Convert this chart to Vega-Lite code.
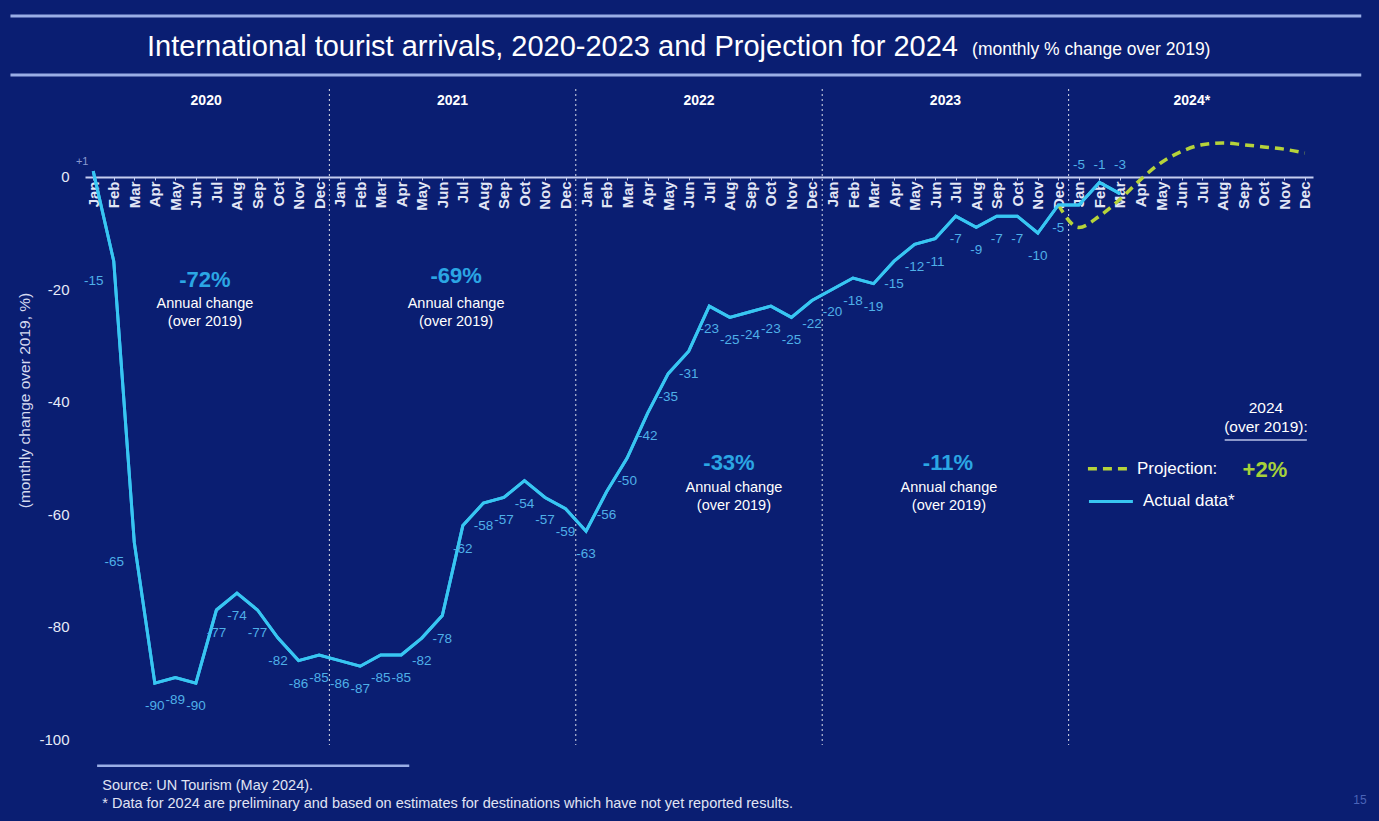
{
  "$schema": "https://vega.github.io/schema/vega-lite/v6.json",
  "description": "International tourist arrivals 2020-2023 and projection for 2024, monthly % change over 2019.",
  "width": 1228,
  "height": 656,
  "autosize": {"type": "none"},
  "padding": {"left": 85, "top": 89, "right": 66, "bottom": 76},
  "background": "#0a1e72",
  "config": {
    "font": "Liberation Sans",
    "view": {"stroke": null},
    "axisX": {"labelOverlap": false, "labelFlush": false, "labelBound": false, "tickCount": 60}
  },
  "datasets": {
    "months": [
      {"i": 0, "period": "2020-01", "actual": 1},
      {"i": 1, "period": "2020-02", "actual": -15},
      {"i": 2, "period": "2020-03", "actual": -65},
      {"i": 3, "period": "2020-04", "actual": -90},
      {"i": 4, "period": "2020-05", "actual": -89},
      {"i": 5, "period": "2020-06", "actual": -90},
      {"i": 6, "period": "2020-07", "actual": -77},
      {"i": 7, "period": "2020-08", "actual": -74},
      {"i": 8, "period": "2020-09", "actual": -77},
      {"i": 9, "period": "2020-10", "actual": -82},
      {"i": 10, "period": "2020-11", "actual": -86},
      {"i": 11, "period": "2020-12", "actual": -85},
      {"i": 12, "period": "2021-01", "actual": -86},
      {"i": 13, "period": "2021-02", "actual": -87},
      {"i": 14, "period": "2021-03", "actual": -85},
      {"i": 15, "period": "2021-04", "actual": -85},
      {"i": 16, "period": "2021-05", "actual": -82},
      {"i": 17, "period": "2021-06", "actual": -78},
      {"i": 18, "period": "2021-07", "actual": -62},
      {"i": 19, "period": "2021-08", "actual": -58},
      {"i": 20, "period": "2021-09", "actual": -57},
      {"i": 21, "period": "2021-10", "actual": -54},
      {"i": 22, "period": "2021-11", "actual": -57},
      {"i": 23, "period": "2021-12", "actual": -59},
      {"i": 24, "period": "2022-01", "actual": -63},
      {"i": 25, "period": "2022-02", "actual": -56},
      {"i": 26, "period": "2022-03", "actual": -50},
      {"i": 27, "period": "2022-04", "actual": -42},
      {"i": 28, "period": "2022-05", "actual": -35},
      {"i": 29, "period": "2022-06", "actual": -31},
      {"i": 30, "period": "2022-07", "actual": -23},
      {"i": 31, "period": "2022-08", "actual": -25},
      {"i": 32, "period": "2022-09", "actual": -24},
      {"i": 33, "period": "2022-10", "actual": -23},
      {"i": 34, "period": "2022-11", "actual": -25},
      {"i": 35, "period": "2022-12", "actual": -22},
      {"i": 36, "period": "2023-01", "actual": -20},
      {"i": 37, "period": "2023-02", "actual": -18},
      {"i": 38, "period": "2023-03", "actual": -19},
      {"i": 39, "period": "2023-04", "actual": -15},
      {"i": 40, "period": "2023-05", "actual": -12},
      {"i": 41, "period": "2023-06", "actual": -11},
      {"i": 42, "period": "2023-07", "actual": -7},
      {"i": 43, "period": "2023-08", "actual": -9},
      {"i": 44, "period": "2023-09", "actual": -7},
      {"i": 45, "period": "2023-10", "actual": -7},
      {"i": 46, "period": "2023-11", "actual": -10},
      {"i": 47, "period": "2023-12", "actual": -5, "projection": -5},
      {"i": 48, "period": "2024-01", "actual": -5, "projection": -9},
      {"i": 49, "period": "2024-02", "actual": -1, "projection": -7},
      {"i": 50, "period": "2024-03", "actual": -3, "projection": -4},
      {"i": 51, "period": "2024-04", "projection": -0.5},
      {"i": 52, "period": "2024-05", "projection": 2.5},
      {"i": 53, "period": "2024-06", "projection": 4.5},
      {"i": 54, "period": "2024-07", "projection": 5.7},
      {"i": 55, "period": "2024-08", "projection": 6},
      {"i": 56, "period": "2024-09", "projection": 5.7},
      {"i": 57, "period": "2024-10", "projection": 5.3},
      {"i": 58, "period": "2024-11", "projection": 4.9},
      {"i": 59, "period": "2024-12", "projection": 4.2}
    ],
    "years": [
      {"year": "2020", "center": 5.5, "end": 11.5},
      {"year": "2021", "center": 17.5, "end": 23.5},
      {"year": "2022", "center": 29.5, "end": 35.5},
      {"year": "2023", "center": 41.5, "end": 47.5},
      {"year": "2024*", "center": 53.5}
    ]
  },
  "data": {"name": "months"},
  "layer": [
    {
      "mark": {"type": "line", "color": "#38c6f2", "strokeWidth": 3},
      "encoding": {
        "x": {
          "field": "i",
          "type": "quantitative",
          "scale": {"domain": [-0.4, 59.4], "nice": false, "zero": false},
          "axis": {
            "orient": "bottom",
            "offset": -568,
            "values": [0, 1, 2, 3, 4, 5, 6, 7, 8, 9, 10, 11, 12, 13, 14, 15, 16, 17, 18, 19, 20, 21, 22, 23, 24, 25, 26, 27, 28, 29, 30, 31, 32, 33, 34, 35, 36, 37, 38, 39, 40, 41, 42, 43, 44, 45, 46, 47, 48, 49, 50, 51, 52, 53, 54, 55, 56, 57, 58, 59],
            "tickCount": 60,
            "labelExpr": "['Jan','Feb','Mar','Apr','May','Jun','Jul','Aug','Sep','Oct','Nov','Dec'][datum.value % 12]",
            "labelAngle": -90,
            "labelFontSize": 15,
            "labelFontWeight": "bold",
            "labelColor": "#e2e6f6",
            "labelPadding": 1,
            "labelOverlap": false,
            "labelBound": false,
            "labelFlush": false,
            "tickSize": 3,
            "tickColor": "#c5cdf0",
            "domainColor": "#c5cdf0",
            "domainWidth": 2,
            "grid": false,
            "title": null
          }
        },
        "y": {
          "field": "actual",
          "type": "quantitative",
          "scale": {"domain": [-101, 15.6], "nice": false, "zero": false},
          "axis": {
            "values": [0, -20, -40, -60, -80, -100],
            "labelExpr": "'' + datum.value",
            "labelFontSize": 15,
            "labelColor": "#e6eaf8",
            "labelPadding": 16,
            "ticks": false,
            "domain": false,
            "grid": false,
            "title": "(monthly change over 2019, %)",
            "titleFontSize": 15.5,
            "titleFontWeight": "normal",
            "titleColor": "#d5daf0",
            "titlePadding": 6,
            "titleY": 311
          }
        }
      }
    },
    {
      "data": {"name": "years"},
      "transform": [{"filter": "isValid(datum.end)"}],
      "mark": {"type": "rule", "color": "#ffffff", "strokeWidth": 1, "strokeDash": [2, 3], "opacity": 0.85},
      "encoding": {
        "x": {"field": "end", "type": "quantitative"}
      }
    },
    {
      "data": {"name": "years"},
      "mark": {"type": "text", "color": "#ffffff", "fontSize": 14, "fontWeight": "bold", "baseline": "middle"},
      "encoding": {
        "x": {"field": "center", "type": "quantitative"},
        "y": {"datum": 13.47},
        "text": {"field": "year"}
      }
    },
    {
      "data": {"values": [{"line": 28.58}, {"line": 18.09}]},
      "mark": {"type": "rule", "color": "#9aaee6", "strokeWidth": 3},
      "encoding": {
        "x": {"datum": -4.03},
        "x2": {"datum": 61.75},
        "y": {"field": "line", "type": "quantitative"}
      }
    },
    {
      "data": {"values": [{}]},
      "mark": {"type": "text", "align": "left", "baseline": "middle", "fontSize": 29, "color": "#ffffff"},
      "encoding": {
        "x": {"datum": 2.62},
        "y": {"datum": 23.0},
        "text": {"value": "International tourist arrivals, 2020-2023 and Projection for 2024"}
      }
    },
    {
      "data": {"values": [{}]},
      "mark": {"type": "text", "align": "left", "baseline": "middle", "fontSize": 17.5, "color": "#ffffff"},
      "encoding": {
        "x": {"datum": 42.8},
        "y": {"datum": 22.5},
        "text": {"value": "(monthly % change over 2019)"}
      }
    },
    {
      "mark": {"type": "line", "color": "#b6d33a", "strokeWidth": 3.5, "strokeDash": [9, 6], "interpolate": "monotone"},
      "encoding": {
        "x": {"field": "i", "type": "quantitative"},
        "y": {"field": "projection", "type": "quantitative"}
      }
    },
    {
      "mark": {"type": "line", "color": "#38c6f2", "strokeWidth": 3},
      "encoding": {
        "x": {"field": "i", "type": "quantitative"},
        "y": {"field": "actual", "type": "quantitative"}
      }
    },
    {
      "transform": [{"filter": "datum.i >= 3 && datum.i <= 47"}],
      "mark": {"type": "text", "color": "#4fb0e8", "fontSize": 13.5, "baseline": "middle", "dy": 23},
      "encoding": {
        "x": {"field": "i", "type": "quantitative"},
        "y": {"field": "actual", "type": "quantitative"},
        "text": {"field": "actual", "type": "nominal"}
      }
    },
    {
      "transform": [{"filter": "datum.i == 1 || datum.i == 2"}],
      "mark": {"type": "text", "color": "#4fb0e8", "fontSize": 13.5, "baseline": "middle", "dx": -20, "dy": 20},
      "encoding": {
        "x": {"field": "i", "type": "quantitative"},
        "y": {"field": "actual", "type": "quantitative"},
        "text": {"field": "actual", "type": "nominal"}
      }
    },
    {
      "transform": [{"filter": "datum.i == 0"}, {"calculate": "'+' + datum.actual", "as": "signed"}],
      "mark": {"type": "text", "color": "#8a9ad0", "fontSize": 11, "baseline": "middle", "dx": -11, "dy": -9},
      "encoding": {
        "x": {"field": "i", "type": "quantitative"},
        "y": {"field": "actual", "type": "quantitative"},
        "text": {"field": "signed", "type": "nominal"}
      }
    },
    {
      "transform": [{"filter": "datum.i >= 48 && isValid(datum.actual)"}],
      "mark": {"type": "text", "color": "#4fb0e8", "fontSize": 13.5, "baseline": "middle"},
      "encoding": {
        "x": {"field": "i", "type": "quantitative"},
        "y": {"datum": 2.1},
        "text": {"field": "actual", "type": "nominal"}
      }
    },
    {
      "data": {"values": [{}]},
      "mark": {"type": "text", "color": "#2ba6e4", "fontSize": 22, "fontWeight": "bold", "baseline": "middle"},
      "encoding": {"x": {"datum": 5.44}, "y": {"datum": -18.3}, "text": {"value": "-72%"}}
    },
    {
      "data": {"values": [{}]},
      "mark": {"type": "text", "color": "#ffffff", "fontSize": 14.5, "baseline": "top", "lineHeight": 18},
      "encoding": {"x": {"datum": 5.44}, "y": {"datum": -21.4}, "text": {"value": ["Annual change", "(over 2019)"]}}
    },
    {
      "data": {"values": [{}]},
      "mark": {"type": "text", "color": "#2ba6e4", "fontSize": 22, "fontWeight": "bold", "baseline": "middle"},
      "encoding": {"x": {"datum": 17.67}, "y": {"datum": -17.6}, "text": {"value": "-69%"}}
    },
    {
      "data": {"values": [{}]},
      "mark": {"type": "text", "color": "#ffffff", "fontSize": 14.5, "baseline": "top", "lineHeight": 18},
      "encoding": {"x": {"datum": 17.67}, "y": {"datum": -21.3}, "text": {"value": ["Annual change", "(over 2019)"]}}
    },
    {
      "data": {"values": [{}]},
      "mark": {"type": "text", "color": "#2ba6e4", "fontSize": 22, "fontWeight": "bold", "baseline": "middle"},
      "encoding": {"x": {"datum": 30.96}, "y": {"datum": -50.9}, "text": {"value": "-33%"}}
    },
    {
      "data": {"values": [{}]},
      "mark": {"type": "text", "color": "#ffffff", "fontSize": 14.5, "baseline": "top", "lineHeight": 18},
      "encoding": {"x": {"datum": 31.2}, "y": {"datum": -54.0}, "text": {"value": ["Annual change", "(over 2019)"]}}
    },
    {
      "data": {"values": [{}]},
      "mark": {"type": "text", "color": "#2ba6e4", "fontSize": 22, "fontWeight": "bold", "baseline": "middle"},
      "encoding": {"x": {"datum": 41.62}, "y": {"datum": -50.9}, "text": {"value": "-11%"}}
    },
    {
      "data": {"values": [{}]},
      "mark": {"type": "text", "color": "#ffffff", "fontSize": 14.5, "baseline": "top", "lineHeight": 18},
      "encoding": {"x": {"datum": 41.67}, "y": {"datum": -54.0}, "text": {"value": ["Annual change", "(over 2019)"]}}
    },
    {
      "data": {"values": [{}]},
      "mark": {"type": "text", "color": "#ffffff", "fontSize": 15.5, "baseline": "middle", "lineHeight": 19},
      "encoding": {"x": {"datum": 57.11}, "y": {"datum": -41.1}, "text": {"value": ["2024", "(over 2019):"]}}
    },
    {
      "data": {"values": [{}]},
      "mark": {"type": "rule", "color": "#b8c2e8", "strokeWidth": 1.5},
      "encoding": {"x": {"datum": 55.1}, "x2": {"datum": 59.1}, "y": {"datum": -46.8}}
    },
    {
      "data": {"values": [{}]},
      "mark": {"type": "rule", "color": "#b6d33a", "strokeWidth": 3.5, "strokeDash": [9, 6]},
      "encoding": {"x": {"datum": 48.44}, "x2": {"datum": 50.58}, "y": {"datum": -51.9}}
    },
    {
      "data": {"values": [{}]},
      "mark": {"type": "rule", "color": "#38c6f2", "strokeWidth": 3},
      "encoding": {"x": {"datum": 48.49}, "x2": {"datum": 50.63}, "y": {"datum": -57.7}}
    },
    {
      "data": {"values": [{}]},
      "mark": {"type": "text", "color": "#ffffff", "fontSize": 17, "align": "left", "baseline": "middle"},
      "encoding": {"x": {"datum": 50.83}, "y": {"datum": -51.9}, "text": {"value": "Projection:"}}
    },
    {
      "data": {"values": [{}]},
      "mark": {"type": "text", "color": "#a6d13a", "fontSize": 22, "fontWeight": "bold", "baseline": "middle"},
      "encoding": {"x": {"datum": 57.06}, "y": {"datum": -52.1}, "text": {"value": "+2%"}}
    },
    {
      "data": {"values": [{}]},
      "mark": {"type": "text", "color": "#ffffff", "fontSize": 17, "align": "left", "baseline": "middle"},
      "encoding": {"x": {"datum": 51.12}, "y": {"datum": -57.7}, "text": {"value": "Actual data*"}}
    },
    {
      "data": {"values": [{}]},
      "mark": {"type": "rule", "color": "#9aaee6", "strokeWidth": 2.5},
      "encoding": {"x": {"datum": 0.19}, "x2": {"datum": 15.39}, "y": {"datum": -104.7}}
    },
    {
      "data": {"values": [{}]},
      "mark": {"type": "text", "color": "#e0e4f4", "fontSize": 14.5, "align": "left", "baseline": "middle", "lineHeight": 18},
      "encoding": {
        "x": {"datum": 0.44},
        "y": {"datum": -108.3},
        "text": {"value": ["Source: UN Tourism (May 2024).", "* Data for 2024 are preliminary and based on estimates for destinations which have not yet reported results."]}
      }
    },
    {
      "data": {"values": [{}]},
      "mark": {"type": "text", "color": "#4a64b8", "fontSize": 12, "baseline": "middle"},
      "encoding": {"x": {"datum": 61.69}, "y": {"datum": -110.8}, "text": {"value": "15"}}
    }
  ]
}
